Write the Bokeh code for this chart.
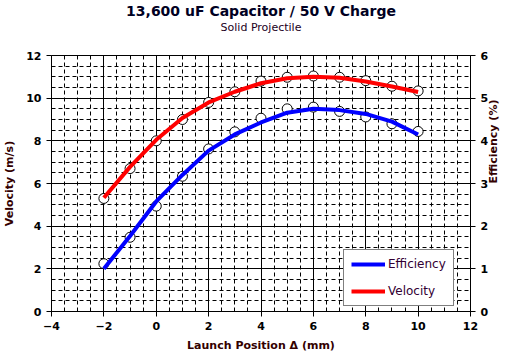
import math
from bokeh.plotting import figure
from bokeh.models import Range1d, LinearAxis, Title, Legend, LegendItem, ColumnDataSource, SingleIntervalTicker
from bokeh.embed import file_html
from bokeh.resources import INLINE

# ---- data ----
positions = [-2, -1, 0, 1, 2, 3, 4, 5, 6, 7, 8, 9, 10]
velocity_meas = [5.3, 6.7, 8.0, 9.0, 9.8, 10.3, 10.8, 10.98, 11.04, 10.98, 10.82, 10.56, 10.34]
efficiency_meas = [1.12, 1.74, 2.47, 3.17, 3.81, 4.21, 4.53, 4.75, 4.79, 4.69, 4.56, 4.40, 4.22]
velocity_fit = [5.33, 6.78, 8.05, 9.07, 9.8, 10.3, 10.7, 10.93, 11.0, 10.96, 10.78, 10.55, 10.29]
efficiency_fit = [1.0, 1.77, 2.58, 3.2, 3.77, 4.15, 4.43, 4.66, 4.75, 4.72, 4.63, 4.45, 4.15]

title_text = "13,600 uF Capacitor / 50 V Charge"
subtitle_text = "Solid Projectile"
x_label = "Launch Position \u0394 (mm)"
y_label = "Velocity (m/s)"
y2_label = "Efficiency (%)"

FONT = "DejaVu Sans"

p = figure(width=510, height=355, output_backend="svg", toolbar_location=None,
           x_range=Range1d(-4, 12), y_range=Range1d(0, 12), title=None,
           min_border_left=45, min_border_right=40, min_border_top=51, min_border_bottom=44)
p.extra_y_ranges = {"eff": Range1d(0, 6)}
p.background_fill_color = "white"
p.border_fill_color = "white"
p.outline_line_color = "black"
p.outline_line_width = 1

# titles (added nearest-first)
p.add_layout(Title(text=" ", text_font_size="9px", align="center"), "above")
p.add_layout(Title(text=subtitle_text, text_font=FONT, text_font_size="11px", text_font_style="normal",
                   text_color="#220022", align="center", standoff=0), "above")
p.add_layout(Title(text=title_text, text_font=FONT, text_font_size="14px", text_font_style="bold",
                   text_color="#000022", align="center", standoff=0), "above")

def style_axis(ax, ticker):
    ax.ticker = ticker
    ax.axis_line_color = "black"
    ax.major_tick_line_color = "black"
    ax.major_tick_out = 5
    ax.major_tick_in = 0
    ax.minor_tick_out = 0
    ax.minor_tick_in = 0
    ax.major_label_text_font = FONT
    ax.major_label_text_font_size = "11px"
    ax.major_label_text_font_style = "bold"
    ax.major_label_text_color = "black"
    ax.axis_label_text_font = FONT
    ax.axis_label_text_font_size = "11px"
    ax.axis_label_text_font_style = "bold"
    ax.axis_label_text_color = "#330000"

xt = SingleIntervalTicker(interval=2, num_minor_ticks=4)
yt = SingleIntervalTicker(interval=2, num_minor_ticks=4)
style_axis(p.xaxis[0], xt)
style_axis(p.yaxis[0], yt)
p.xaxis[0].axis_label = x_label
p.yaxis[0].axis_label = y_label
p.xaxis[0].axis_label_standoff = 6
p.yaxis[0].axis_label_standoff = 7

ax2 = LinearAxis(y_range_name="eff", axis_label=y2_label)
style_axis(ax2, SingleIntervalTicker(interval=1, num_minor_ticks=2))
ax2.major_label_standoff = 5
ax2.axis_label_standoff = 2
ax2.axis_label_orientation = math.pi / 2
p.add_layout(ax2, "right")

for g in (p.xgrid[0], p.ygrid[0]):
    g.grid_line_color = "black"
    g.grid_line_width = 1
    g.minor_grid_line_color = "black"
    g.minor_grid_line_dash = "4 3"
    g.minor_grid_line_width = 1
p.xgrid[0].ticker = xt
p.ygrid[0].ticker = yt

src = ColumnDataSource(dict(x=positions, v=velocity_meas, e=efficiency_meas,
                            vf=velocity_fit, ef=efficiency_fit))

p.scatter("x", "v", source=src, size=10, fill_color="white", line_color="black", line_width=1)
p.scatter("x", "e", source=src, size=10, fill_color="white", line_color="black", line_width=1,
          y_range_name="eff")
r_eff = p.line("x", "ef", source=src, line_color="#0000ff", line_width=4, y_range_name="eff")
r_vel = p.line("x", "vf", source=src, line_color="#ff0000", line_width=4)

legend = Legend(items=[LegendItem(label="Efficiency", renderers=[r_eff]),
                       LegendItem(label="Velocity", renderers=[r_vel])],
                location=(292, 5))
legend.border_line_color = "black"
legend.border_line_width = 1
legend.background_fill_color = "white"
legend.background_fill_alpha = 1
legend.label_text_font = FONT
legend.label_text_font_size = "12px"
legend.label_text_color = "#330033"
legend.glyph_width = 34
legend.glyph_height = 14
legend.label_height = 14
legend.label_standoff = 3
legend.padding = 7
legend.spacing = 13
legend.margin = 0
p.add_layout(legend, "center")

open("out.html", "w").write(file_html(p, INLINE))
